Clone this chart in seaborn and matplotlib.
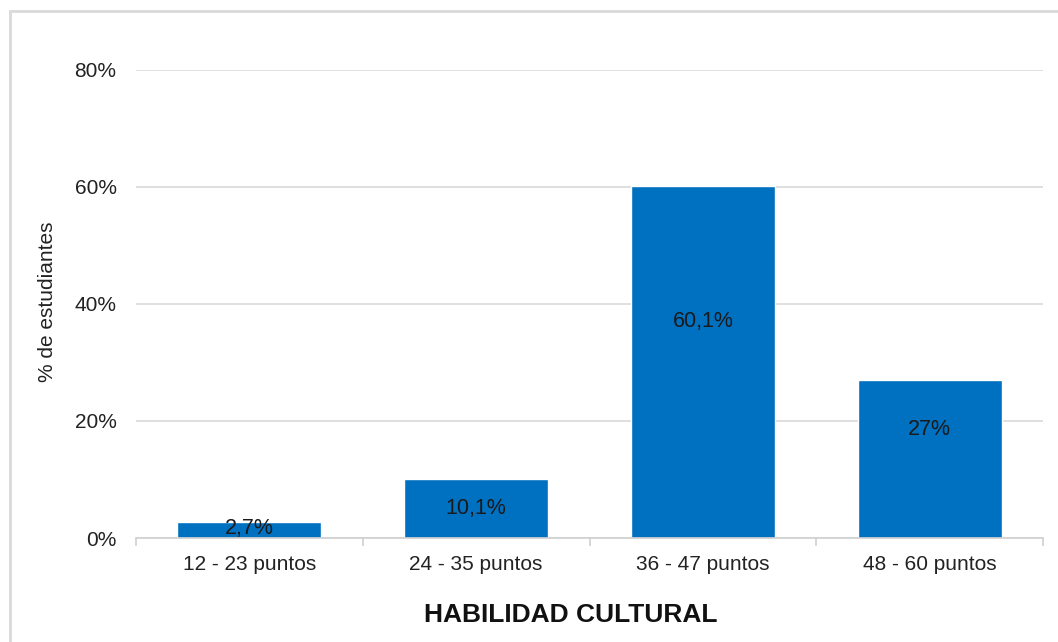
import matplotlib
matplotlib.use("Agg")
import matplotlib.pyplot as plt
import seaborn as sns
import pandas as pd
from matplotlib.patches import Rectangle
from matplotlib.ticker import FuncFormatter, FixedLocator

categories = ["12 - 23 puntos", "24 - 35 puntos", "36 - 47 puntos", "48 - 60 puntos"]
values = [2.7, 10.1, 60.1, 27.0]
value_labels = ["2,7%", "10,1%", "60,1%", "27%"]
y_ticks = [0, 20, 40, 60, 80]

df = pd.DataFrame({"rango": categories, "pct": values})

sns.set_theme(style="white")
plt.rcParams["font.family"] = ["Liberation Sans", "DejaVu Sans"]

W, H = 1058, 642
fig = plt.figure(figsize=(W / 100, H / 100), dpi=100)
ax = fig.add_axes([136 / W, 1 - 538 / H, (1043 - 136) / W, (538 - 70) / H])

bar_color = "#0070C0"
sns.barplot(data=df, x="rango", y="pct", color=bar_color, saturation=1,
            width=0.636, ax=ax, zorder=3)

ax.set_ylim(0, 80)
ax.set_xlim(-0.5, len(categories) - 0.5)
ax.yaxis.set_major_locator(FixedLocator(y_ticks))
ax.yaxis.set_major_formatter(FuncFormatter(lambda v, p: f"{v:.0f}%"))
ax.grid(axis="y", color="#d9d9d9", linewidth=1.2, zorder=0)
ax.grid(axis="x", visible=False)

for s in ["top", "right", "left"]:
    ax.spines[s].set_visible(False)
ax.spines["bottom"].set_color("#d0d0d0")
ax.spines["bottom"].set_linewidth(1.2)
ax.spines["bottom"].set_zorder(4)

# category-boundary tick marks on the x axis
ax.set_xticks([i for i in range(len(categories))])
ax.set_xticklabels(categories)
ax.set_xticks([i - 0.5 for i in range(len(categories) + 1)], minor=True)
ax.tick_params(axis="x", which="major", length=0, pad=12.5, labelsize=15, labelcolor="#222222")
ax.tick_params(axis="x", which="minor", length=6, width=1.2, color="#d0d0d0", direction="out", bottom=True)
ax.tick_params(axis="y", length=0, pad=14, labelsize=15, labelcolor="#222222")

ax.set_xlabel("")
ax.set_ylabel("")

# value labels inside the bars (fraction of bar height)
label_frac = [0.62, 0.50, 0.617, 0.69]
for i, (v, txt) in enumerate(zip(values, value_labels)):
    ax.text(i, v * label_frac[i], txt, ha="center", va="center",
            fontsize=15.5, color="#1a1a1a", zorder=5)

fig.text(571 / W, 1 - 615 / H, "HABILIDAD CULTURAL", ha="center", va="center",
         fontsize=19, fontweight="bold", color="#111111")
fig.text(48 / W, 1 - 302 / H, "% de estudiantes", ha="center", va="center",
         rotation=90, fontsize=15, color="#222222")

# outer chart frame
fig.patches.append(Rectangle((10 / W, -0.1), 1.2, 1 - 11 / H + 0.1,
                             transform=fig.transFigure, fill=False,
                             edgecolor="#d9d9d9", linewidth=2, zorder=0))

fig.savefig("out.png", dpi=100, facecolor="white")
